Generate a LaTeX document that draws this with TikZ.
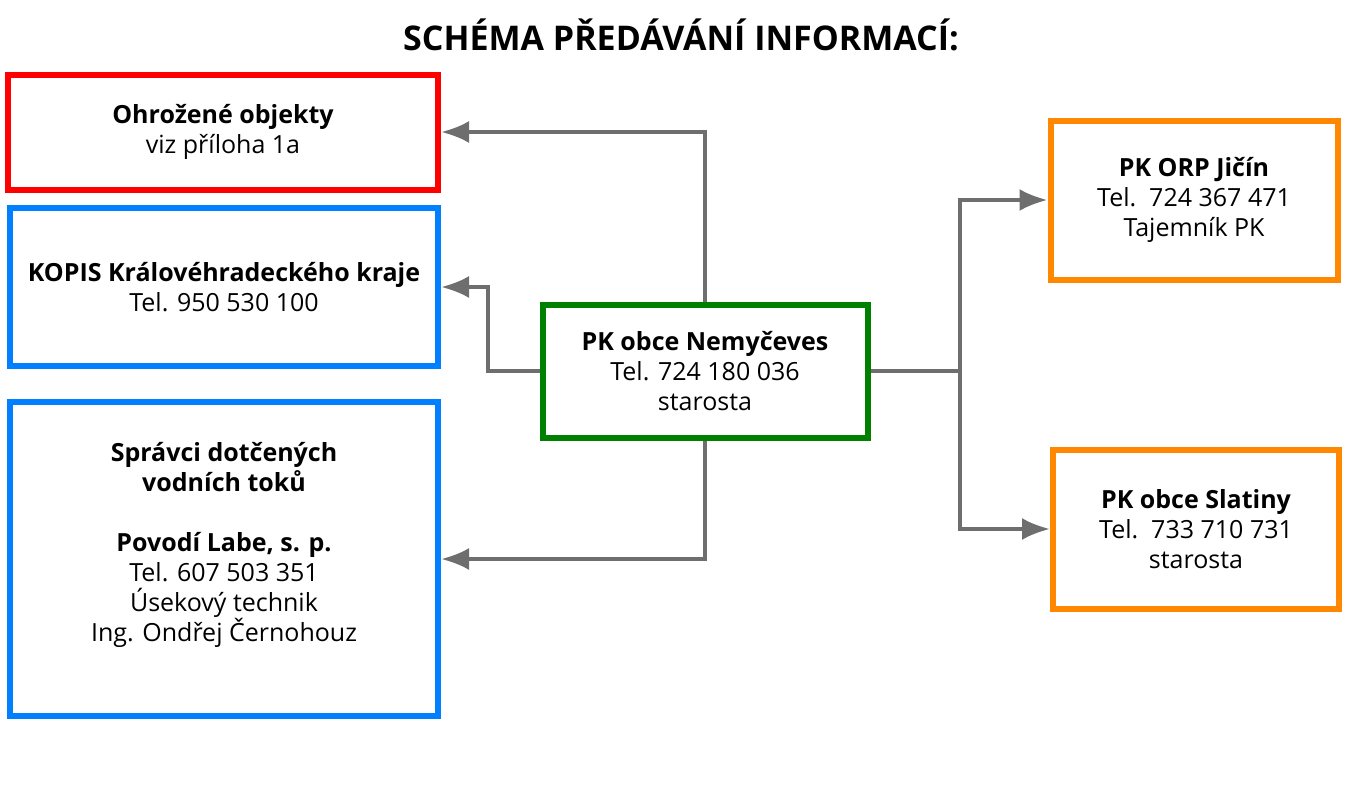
\documentclass[tikz,border=0pt]{standalone}
\usepackage{fontspec}
\setmainfont{Open Sans}
\usetikzlibrary{arrows.meta}
\definecolor{boxred}{RGB}{255,0,0}
\definecolor{boxblue}{RGB}{0,128,255}
\definecolor{boxgreen}{RGB}{0,128,0}
\definecolor{boxorange}{RGB}{255,136,0}
\definecolor{linkgray}{RGB}{110,110,110}
\tikzset{
  infobox/.style={draw, line width=6pt, align=center, inner sep=0pt,
    font=\fontsize{25}{30}\selectfont},
  link/.style={draw=linkgray, line width=4pt, -{Latex[length=28pt,width=22pt]}}
}
\begin{document}
\begin{tikzpicture}[x=1pt,y=-1pt]
\useasboundingbox (0,0) rectangle (1359,787);

\node[font=\fontsize{34}{40}\selectfont\bfseries] (title) at (681,35) {SCHÉMA PŘEDÁVÁNÍ INFORMACÍ:};

\node[infobox, draw=boxred, minimum width=430, minimum height=115] (threat) at (223,132)
  {\textbf{Ohrožené objekty}\\viz příloha 1a};
\node[infobox, draw=boxblue, minimum width=428, minimum height=158] (kopis) at (224,287)
  {\textbf{KOPIS Královéhradeckého kraje}\\Tel. 950 530 100};
\node[infobox, draw=boxblue, minimum width=428, minimum height=314] (river) at (224,559)
  {\textbf{Správci dotčených}\\\textbf{vodních toků}\\[30pt]\textbf{Povodí Labe, s. p.}\\Tel. 607 503 351\\Úsekový technik\\Ing. Ondřej Černohouz\\[4pt]};
\node[infobox, draw=boxgreen, minimum width=325, minimum height=133] (obec) at (705,371)
  {\textbf{PK obce Nemyčeves}\\Tel. 724 180 036\\starosta};
\node[infobox, draw=boxorange, minimum width=287, minimum height=159] (orp) at (1194,200)
  {\textbf{PK ORP Jičín}\\Tel.\ \ 724 367 471\\Tajemník PK};
\node[infobox, draw=boxorange, minimum width=286, minimum height=159] (slatiny) at (1196,529)
  {\textbf{PK obce Slatiny}\\Tel.\ \ 733 710 731\\starosta};

\coordinate (fork) at (960,371);

\draw[link] (obec.north) |- (threat.east);
\draw[link] (obec.west) -- ++(-52,0) |- (kopis.east);
\draw[link] (obec.south) |- (river.east);
\draw[draw=linkgray, line width=4pt] (obec.east) -- (fork);
\draw[link] (fork) |- (orp.west);
\draw[link] (fork) |- (slatiny.west);
\end{tikzpicture}
\end{document}
